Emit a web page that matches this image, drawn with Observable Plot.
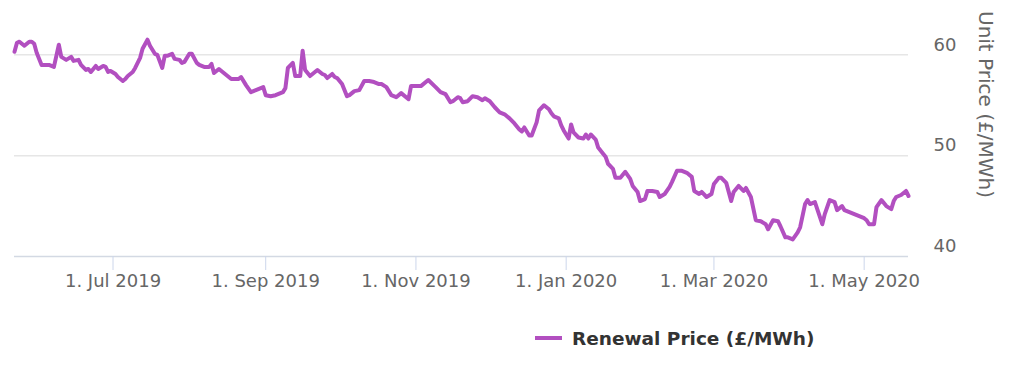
<!DOCTYPE html>
<html>
<head>
<meta charset="utf-8">
<script src="https://cdn.jsdelivr.net/npm/d3@7"></script>
<script src="https://cdn.jsdelivr.net/npm/@observablehq/plot@0.6"></script>
<style>
  html, body { margin: 0; padding: 0; background: #fff; }
  #chart { width: 1024px; height: 300px; }
  #legend { height: 90px; position: relative; font-family: "DejaVu Sans", sans-serif; }
  #legend .item { position: absolute; left: 535px; top: 26px; height: 24px; display: flex; align-items: center; }
  #legend .swatch { width: 27px; height: 4px; margin-right: 10px; }
  #legend .label { font-size: 18.5px; font-weight: bold; color: #333; }
</style>
</head>
<body>
<div id="chart"></div>
<div id="legend"></div>
<script>
const seriesName = "Renewal Price (£/MWh)";
const yTitle = "Unit Price (£/MWh)";
const lineColor = "#b24fc0";

const dates = [
"2019-05-22","2019-05-23","2019-05-24","2019-05-25","2019-05-26","2019-05-27","2019-05-28","2019-05-29","2019-05-30","2019-05-31",
"2019-06-02","2019-06-04","2019-06-05","2019-06-07","2019-06-08","2019-06-09","2019-06-10","2019-06-12","2019-06-14","2019-06-15",
"2019-06-17","2019-06-18","2019-06-20","2019-06-21","2019-06-22","2019-06-24","2019-06-25","2019-06-27","2019-06-28","2019-06-29","2019-06-30",
"2019-07-02","2019-07-03","2019-07-05","2019-07-06","2019-07-07","2019-07-09","2019-07-10","2019-07-12","2019-07-13","2019-07-15","2019-07-16","2019-07-18","2019-07-19","2019-07-21","2019-07-22","2019-07-23","2019-07-25","2019-07-26","2019-07-28","2019-07-29","2019-07-30",
"2019-08-01","2019-08-02","2019-08-04","2019-08-05","2019-08-07","2019-08-09","2019-08-10","2019-08-11","2019-08-13","2019-08-15","2019-08-17","2019-08-18","2019-08-21","2019-08-22","2019-08-24","2019-08-26","2019-08-28","2019-08-31",
"2019-09-01","2019-09-03","2019-09-05","2019-09-08","2019-09-09","2019-09-10","2019-09-12","2019-09-13","2019-09-15","2019-09-16","2019-09-17","2019-09-19","2019-09-20","2019-09-22","2019-09-24","2019-09-25","2019-09-26","2019-09-28","2019-09-29","2019-09-30",
"2019-10-02","2019-10-04","2019-10-05","2019-10-07","2019-10-09","2019-10-11","2019-10-13","2019-10-15","2019-10-17","2019-10-18","2019-10-20","2019-10-22","2019-10-24","2019-10-26","2019-10-29","2019-10-30",
"2019-11-01","2019-11-03","2019-11-06","2019-11-09","2019-11-11","2019-11-13","2019-11-15","2019-11-16","2019-11-18","2019-11-19","2019-11-20","2019-11-22","2019-11-24","2019-11-26","2019-11-28","2019-11-29",
"2019-12-01","2019-12-03","2019-12-05","2019-12-07","2019-12-09","2019-12-11","2019-12-13","2019-12-14","2019-12-15","2019-12-17","2019-12-18","2019-12-20","2019-12-21","2019-12-23","2019-12-25","2019-12-26","2019-12-27","2019-12-29","2019-12-30","2019-12-31",
"2020-01-02","2020-01-03","2020-01-04","2020-01-06","2020-01-08","2020-01-09","2020-01-10","2020-01-11","2020-01-13","2020-01-14","2020-01-16","2020-01-17","2020-01-18","2020-01-20","2020-01-21","2020-01-23","2020-01-25","2020-01-27","2020-01-28","2020-01-30","2020-01-31",
"2020-02-02","2020-02-03","2020-02-05","2020-02-07","2020-02-08","2020-02-10","2020-02-12","2020-02-13","2020-02-15","2020-02-17","2020-02-19","2020-02-21","2020-02-22","2020-02-24","2020-02-25","2020-02-27","2020-02-29",
"2020-03-01","2020-03-03","2020-03-04","2020-03-06","2020-03-08","2020-03-09","2020-03-11","2020-03-13","2020-03-14","2020-03-16","2020-03-18","2020-03-20","2020-03-22","2020-03-23","2020-03-25","2020-03-27","2020-03-28","2020-03-30","2020-03-31",
"2020-04-02","2020-04-04","2020-04-05","2020-04-07","2020-04-08","2020-04-09","2020-04-11","2020-04-14","2020-04-15","2020-04-17","2020-04-19","2020-04-20","2020-04-22","2020-04-23","2020-04-25","2020-04-28",
"2020-05-01","2020-05-02","2020-05-03","2020-05-05","2020-05-06","2020-05-08","2020-05-10","2020-05-12","2020-05-13","2020-05-14","2020-05-16","2020-05-18","2020-05-19"
];

const prices = [
60.3,61.2,61.3,61.1,60.9,61.1,61.3,61.3,61.1,60.2,
59.0,59.0,59.0,58.8,59.9,61.0,59.8,59.5,59.8,59.4,
59.5,59.0,58.5,58.6,58.3,58.9,58.6,58.9,58.8,58.3,58.4,
58.1,57.8,57.4,57.6,57.9,58.3,58.7,59.7,60.6,61.5,60.9,60.1,60.0,58.7,59.9,59.9,60.1,59.6,59.5,59.2,59.3,
60.1,60.1,59.2,59.0,58.8,58.8,59.1,58.2,58.6,58.2,57.8,57.6,57.6,57.8,57.0,56.3,56.5,56.8,
56.0,55.9,56.0,56.3,56.7,58.7,59.2,57.9,57.9,60.4,58.5,57.9,58.1,58.5,58.1,58.0,57.7,58.1,57.8,57.7,
57.1,55.9,56.0,56.4,56.5,57.4,57.4,57.3,57.1,57.1,56.8,56.0,55.8,56.2,55.6,56.9,
56.9,56.9,57.5,56.8,56.3,56.1,55.3,55.4,55.8,55.7,55.3,55.4,55.9,55.8,55.5,55.7,
55.4,54.8,54.3,54.1,53.7,53.2,52.6,52.4,52.8,52.0,52.0,53.3,54.5,55.0,54.6,54.2,53.9,53.7,53.0,52.5,
51.7,53.1,52.3,51.8,51.7,52.1,51.7,52.1,51.6,50.8,50.2,49.9,49.2,48.7,47.8,47.8,48.4,47.7,47.0,46.4,45.5,
45.7,46.5,46.5,46.4,45.9,46.2,46.9,47.4,48.5,48.5,48.3,47.9,46.5,46.2,46.4,45.9,46.2,
47.2,47.8,47.8,47.3,45.5,46.4,47.0,46.5,46.8,45.9,43.6,43.5,43.2,42.7,43.6,43.5,43.0,41.9,41.9,
41.7,42.4,42.9,45.2,45.6,45.2,45.4,43.2,44.2,45.6,45.4,44.6,45.0,44.6,44.4,44.1,
43.8,43.6,43.2,43.2,44.9,45.6,45.0,44.7,45.5,45.9,46.1,46.5,46.0
];

const xTicks = ["2019-07-01","2019-09-01","2019-11-01","2020-01-01","2020-03-01","2020-05-01"];
const yTicks = [40, 50, 60];
const yGrid = [50, 60];
const yDomain = [40, 64];

const data = dates.map((d, i) => ({date: new Date(d), value: prices[i]}));
const fmt = d3.utcFormat("%-d. %b %Y");

const chart = Plot.plot({
  width: 1024,
  height: 300,
  marginLeft: 14,
  marginRight: 116,
  marginTop: 14,
  marginBottom: 44,
  style: {fontFamily: "DejaVu Sans, sans-serif", fontSize: "18px", background: "#fff", overflow: "visible"},
  x: {type: "utc", domain: d3.extent(data, d => d.date)},
  y: {domain: yDomain},
  marks: [
    Plot.ruleY(yGrid, {stroke: "#e6e6e6", strokeWidth: 1.5}),
    Plot.ruleY([yDomain[0]], {stroke: "#d3d9e3", strokeWidth: 1.5}),
    Plot.axisX({
      ticks: xTicks.map(d => new Date(d)),
      tickFormat: fmt,
      tickSize: 14,
      tickPadding: 4,
      stroke: "#ccd6eb",
      fill: "#666",
      fontSize: 18,
      label: null
    }),
    Plot.axisY({
      anchor: "right",
      ticks: yTicks,
      tickSize: 0,
      tickPadding: 25,
      dy: -10,
      fill: "#666",
      fontSize: 18,
      label: null
    }),
    Plot.text([yTitle], {
      frameAnchor: "right",
      textAnchor: "middle",
      rotate: 90,
      dx: 77,
      dy: -31,
      fill: "#666",
      fontSize: 20
    }),
    Plot.lineY(data, {x: "date", y: "value", stroke: lineColor, strokeWidth: 4, strokeLinejoin: "round", strokeLinecap: "round"})
  ]
});
document.getElementById("chart").appendChild(chart);

const legend = document.getElementById("legend");
const item = document.createElement("div");
item.className = "item";
const sw = document.createElement("span");
sw.className = "swatch";
sw.style.background = lineColor;
const lb = document.createElement("span");
lb.className = "label";
lb.textContent = seriesName;
item.appendChild(sw);
item.appendChild(lb);
legend.appendChild(item);
</script>
</body>
</html>
